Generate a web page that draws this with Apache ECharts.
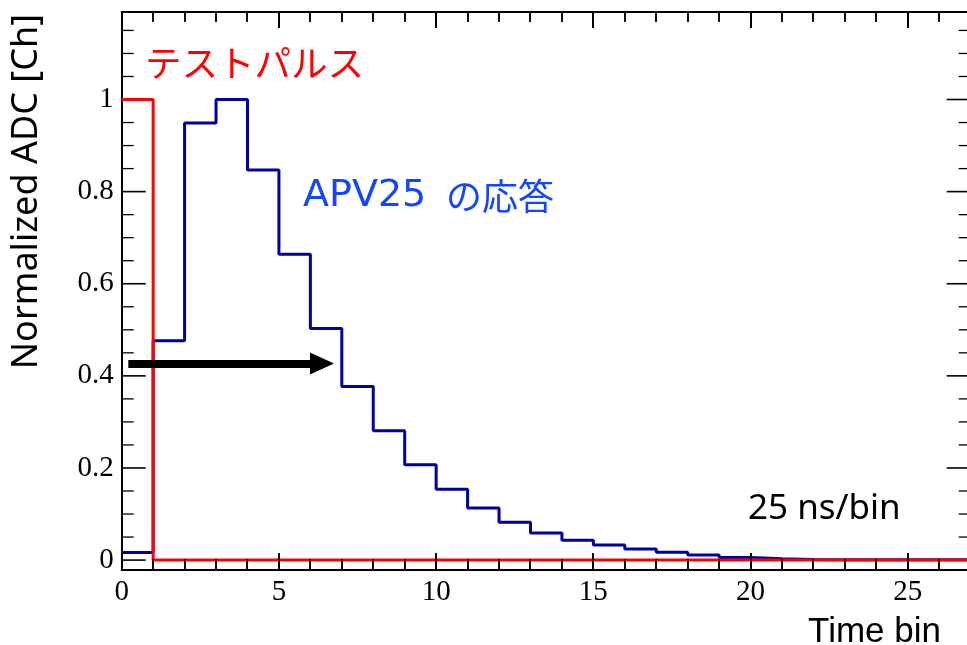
<!DOCTYPE html>
<html>
<head>
<meta charset="utf-8">
<script src="https://cdn.jsdelivr.net/npm/echarts@6/dist/echarts.min.js"></script>
<style>html,body{margin:0;padding:0;background:#fff}#c{width:967px;height:645px}</style>
</head>
<body>
<div id="c"></div>
<script>
// ---- data ----
const binEdges = [0,1,2,3,4,5,6,7,8,9,10,11,12,13,14,15,16,17,18,19,20,21,22,23,24,25,26,27];
const apv25Response = [0.0165,0.476,0.949,1.0,0.847,0.664,0.503,0.377,0.281,0.207,0.154,0.113,0.082,0.059,0.043,0.033,0.024,0.0168,0.011,0.0057,0.003,0.0015,0.001,0.001,0.001,0.0005,0.0005];
const testPulse = [1,0,0,0,0,0,0,0,0,0,0,0,0,0,0,0,0,0,0,0,0,0,0,0,0,0,0];
const xTickValues = [0,5,10,15,20,25];
const xMinorValues = [1,2,3,4,6,7,8,9,11,12,13,14,16,17,18,19,21,22,23,24,26];
const yTickValues = [0,0.2,0.4,0.6,0.8,1];
const yMinorValues = [0.05,0.1,0.15,0.25,0.3,0.35,0.45,0.5,0.55,0.65,0.7,0.75,0.85,0.9,0.95,1.05,1.1,1.15];
const arrowStart = [0.21,0.427];
const arrowHeadCenter = [6.37,0.427];

const X_MIN = 0, X_MAX = 27, Y_MIN = -0.02, Y_MAX = 1.19;

function histPoints(vals){
  const pts = [];
  for (let i = 0; i < vals.length; i++) pts.push([binEdges[i], vals[i]]);
  pts.push([binEdges[vals.length], vals[vals.length-1]]);
  return pts;
}

// tick marks: [value, kind]  kind 0 major, 1 minor
const xTickData = xTickValues.map(v => [v, 0]).concat(xMinorValues.map(v => [v, 1]));
const yTickData = yTickValues.map(v => [v, 0]).concat(yMinorValues.map(v => [v, 1]));

function renderXTicks(params, api){
  const v = api.value(0), k = api.value(1);
  const w = k === 0 ? 2 : 1.5, len = k === 0 ? 16 : 10;
  const b = api.coord([v, Y_MIN]), t = api.coord([v, Y_MAX]);
  const x = Math.round(b[0]);
  return {type:'group', children:[
    {type:'rect', shape:{x:x - w/2, y:b[1] - len, width:w, height:len}, style:{fill:'#000'}},
    {type:'rect', shape:{x:x - w/2, y:t[1], width:w, height:len}, style:{fill:'#000'}}
  ]};
}
function renderYTicks(params, api){
  const v = api.value(0), k = api.value(1);
  const w = k === 0 ? 1.6 : 1.3, len = k === 0 ? 24 : 12;
  const l = api.coord([X_MIN, v]), r = api.coord([X_MAX, v]);
  return {type:'group', children:[
    {type:'rect', shape:{x:l[0], y:l[1] - w/2, width:len, height:w}, style:{fill:'#000'}},
    {type:'rect', shape:{x:r[0] - len, y:r[1] - w/2, width:len, height:w}, style:{fill:'#000'}}
  ]};
}

const chart = echarts.init(document.getElementById('c'), null, {renderer:'canvas'});
const tickFont = {fontFamily:'"Liberation Serif", serif', fontSize:29, color:'#000'};
const lineOn = {show:true, onZero:false, lineStyle:{color:'#000', width:2}};

const baseGraphic = [
  {type:'text', x:145, y:63, silent:true, z:10,
   style:{text:'テストパルス', fill:'#ff0000', font:'36.5px "Noto Sans CJK JP"', textAlign:'left', textVerticalAlign:'middle', align:'left', verticalAlign:'middle'}},
  {type:'text', x:303, y:196, silent:true, z:10,
   style:{text:'APV25', fill:'#1245ff', font:'38px "DejaVu Sans"', textAlign:'left', textVerticalAlign:'middle', align:'left', verticalAlign:'middle'}},
  {type:'text', x:446, y:196, silent:true, z:10,
   style:{text:'の応答', fill:'#1245ff', font:'36px "Noto Sans CJK JP"', textAlign:'left', textVerticalAlign:'middle', align:'left', verticalAlign:'middle'}},
  {type:'text', x:748, y:509, silent:true, z:10,
   style:{text:'25 ns/bin', fill:'#000', font:'35px "Noto Sans"', textAlign:'left', textVerticalAlign:'middle', align:'left', verticalAlign:'middle'}},
  {type:'text', x:941, y:632, silent:true, z:10,
   style:{text:'Time bin', fill:'#000', font:'35px "Liberation Sans"', textAlign:'right', textVerticalAlign:'middle', align:'right', verticalAlign:'middle'}},
  {type:'text', x:27, y:14, rotation:Math.PI/2, silent:true, z:10,
   style:{text:'Normalized ADC [Ch]', fill:'#000', font:'36px "Noto Sans"', textAlign:'right', textVerticalAlign:'middle', align:'right', verticalAlign:'middle'}}
];

chart.setOption({
  animation:false,
  backgroundColor:'#fff',
  grid:{left:121.7, top:12, width:849, height:557.3, containLabel:false, outerBoundsMode:'none'},
  xAxis:[
    {type:'value', min:X_MIN, max:X_MAX, position:'bottom', splitLine:{show:false}, axisLine:lineOn, axisTick:{show:false},
     axisLabel:Object.assign({show:true, margin:9, customValues:xTickValues}, tickFont)},
    {type:'value', min:X_MIN, max:X_MAX, position:'top', splitLine:{show:false}, axisLine:lineOn, axisTick:{show:false}, axisLabel:{show:false}}
  ],
  yAxis:[
    {type:'value', min:Y_MIN, max:Y_MAX, position:'left', splitLine:{show:false}, axisLine:lineOn, axisTick:{show:false},
     axisLabel:Object.assign({show:true, margin:8, customValues:yTickValues}, tickFont)},
    {type:'value', min:Y_MIN, max:Y_MAX, position:'right', splitLine:{show:false}, axisLine:lineOn, axisTick:{show:false}, axisLabel:{show:false}}
  ],
  series:[
    {name:'yTicks', type:'custom', coordinateSystem:'cartesian2d', xAxisIndex:0, yAxisIndex:0,
     renderItem:renderYTicks, data:yTickData, silent:true, clip:false, z:1},
    {name:'APV25', type:'line', xAxisIndex:0, yAxisIndex:0, step:'end', showSymbol:false, symbol:'none',
     data:histPoints(apv25Response), lineStyle:{color:'#00009c', width:3}, silent:true, z:2},
    {name:'TestPulse', type:'line', xAxisIndex:0, yAxisIndex:0, step:'end', showSymbol:false, symbol:'none',
     data:histPoints(testPulse), lineStyle:{color:'#ff0000', width:3}, silent:true, z:3,
     markLine:{silent:true, symbol:['none','triangle'], symbolSize:[22,24], animation:false,
       label:{show:false}, emphasis:{disabled:true},
       lineStyle:{color:'#000', width:8, type:'solid'}, itemStyle:{color:'#000'},
       data:[[{coord:arrowStart},{coord:arrowHeadCenter}]]}},
    {name:'xTicks', type:'custom', coordinateSystem:'cartesian2d', xAxisIndex:0, yAxisIndex:0,
     renderItem:renderXTicks, data:xTickData, silent:true, clip:false, z:5}
  ],
  graphic:baseGraphic
});

// also place x tick marks through the axis scale as graphic elements
const xTickGraphics = [];
const yBottom = chart.convertToPixel({xAxisIndex:0, yAxisIndex:0}, [X_MIN, Y_MIN])[1];
const yTop = chart.convertToPixel({xAxisIndex:0, yAxisIndex:0}, [X_MIN, Y_MAX])[1];
xTickData.forEach(function(d){
  const px = Math.round(chart.convertToPixel({xAxisIndex:0}, d[0]));
  const w = d[1] === 0 ? 2 : 1.5, len = d[1] === 0 ? 16 : 10;
  xTickGraphics.push({type:'rect', silent:true, z:4, shape:{x:px - w/2, y:yBottom - len, width:w, height:len}, style:{fill:'#000'}});
  xTickGraphics.push({type:'rect', silent:true, z:4, shape:{x:px - w/2, y:yTop, width:w, height:len}, style:{fill:'#000'}});
});
chart.setOption({graphic:baseGraphic.concat(xTickGraphics)});
</script>
</body>
</html>
